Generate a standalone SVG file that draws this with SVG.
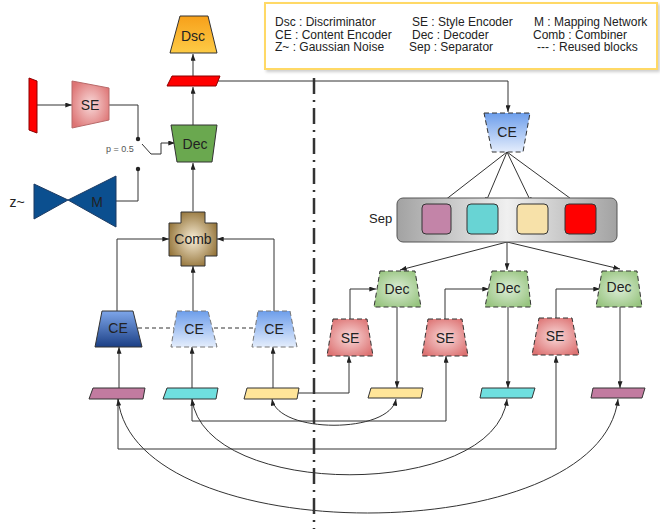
<svg xmlns="http://www.w3.org/2000/svg" width="660" height="529" viewBox="0 0 660 529">
<style>
  text { font-family: "Liberation Sans", Arial, sans-serif; fill: #222; }
  .lbl { font-size: 14px; text-anchor: middle; dominant-baseline: central; }
  .leg { font-size: 12px; }
  .ln { fill: none; stroke: #333; stroke-width: 1; }
  .arr { marker-end: url(#ah); }
  .both { marker-start: url(#ahs); marker-end: url(#ah); }
  .solid { stroke: #333; stroke-width: 1; }
  .dash { stroke: #333; stroke-width: 1; stroke-dasharray: 5 3; }
  .dashl { stroke: #777; stroke-width: 1; stroke-dasharray: 5 3; }
</style>
<defs>
  <marker id="ah" viewBox="0 0 8 6" refX="8" refY="3" markerWidth="7" markerHeight="5" orient="auto" markerUnits="userSpaceOnUse"><path d="M0,0 L8,3 L0,6 z" fill="#222"/></marker>
  <marker id="ahs" viewBox="0 0 8 6" refX="8" refY="3" markerWidth="7" markerHeight="5" orient="auto-start-reverse" markerUnits="userSpaceOnUse"><path d="M0,0 L8,3 L0,6 z" fill="#222"/></marker>
  <linearGradient id="gDsc" x1="0" y1="0" x2="0" y2="1"><stop offset="0" stop-color="#F7A01A"/><stop offset="1" stop-color="#FDCB46"/></linearGradient>
  <radialGradient id="gSE" cx="0.5" cy="0.5" r="0.6"><stop offset="0" stop-color="#F8D9D9"/><stop offset="1" stop-color="#DD7373"/></radialGradient>
  <radialGradient id="gComb" cx="0.5" cy="0.5" r="0.6"><stop offset="0" stop-color="#F8EDD6"/><stop offset="1" stop-color="#8C6A2C"/></radialGradient>
  <linearGradient id="gCE1" x1="0" y1="0" x2="0" y2="1"><stop offset="0" stop-color="#7EA6EA"/><stop offset="1" stop-color="#1B3F85"/></linearGradient>
  <linearGradient id="gCE2" x1="0" y1="0" x2="0" y2="1"><stop offset="0" stop-color="#6D9EEB"/><stop offset="1" stop-color="#E4EDFC"/></linearGradient>
  <radialGradient id="gDec" cx="0.5" cy="0.5" r="0.6"><stop offset="0" stop-color="#DCEDD6"/><stop offset="1" stop-color="#97C47F"/></radialGradient>
  <linearGradient id="gSep" x1="0" y1="0" x2="1" y2="0"><stop offset="0" stop-color="#A2A2A2"/><stop offset="0.5" stop-color="#F0F0F0"/><stop offset="1" stop-color="#A2A2A2"/></linearGradient>
  <filter id="sh" x="-5%" y="-20%" width="110%" height="140%"><feDropShadow dx="2" dy="2" stdDeviation="1.5" flood-color="#000" flood-opacity="0.2"/></filter>
</defs>
<rect width="660" height="529" fill="#fff"/>

<!-- legend -->
<g id="legend">
  <rect x="265" y="3" width="392" height="66" fill="#fff" stroke="#FFD966" stroke-width="2" filter="url(#sh)"/>
  <text class="leg" x="275" y="26">Dsc : Discriminator</text>
  <text class="leg" x="412" y="26">SE : Style Encoder</text>
  <text class="leg" x="534" y="26">M : Mapping Network</text>
  <text class="leg" x="275" y="38.5">CE : Content Encoder</text>
  <text class="leg" x="412" y="38.5">Dec : Decoder</text>
  <text class="leg" x="533" y="38.5">Comb : Combiner</text>
  <text class="leg" x="275" y="51">Z~ : Gaussian Noise</text>
  <text class="leg" x="409" y="51">Sep : Separator</text>
  <text class="leg" x="537" y="51">--- : Reused blocks</text>
</g>

<!-- separator line -->
<line x1="314" y1="78" x2="314" y2="529" stroke="#333" stroke-width="2.5" stroke-dasharray="16 6 2 6"/>

<!-- connectors -->
<g id="connectors">
  <path class="ln arr" d="M193,76 V54"/>
  <path class="ln arr" d="M193,125 V87"/>
  <path class="ln arr" d="M193,211 V163"/>
  <path class="ln arr" d="M218,81 H508 V112"/>
  <path class="ln arr" d="M37,105 H72"/>
  <path class="ln" d="M109,105 H138 V139"/>
  <path class="ln" d="M142,144 L151,154 H161 V143"/>
  <path class="ln arr" d="M161,143 H175"/>
  <path class="ln" d="M138,169 V201 H116"/>
  <circle cx="138" cy="139" r="2.2" fill="#222"/>
  <circle cx="138" cy="169" r="2.2" fill="#222"/>
  <path class="ln arr" d="M117,311 V239 H169"/>
  <path class="ln arr" d="M274,311 V239 H217"/>
  <path class="ln arr" d="M193,311 V266"/>
  <path d="M138,328 H174 M214,328 H255" stroke="#333" stroke-width="1" stroke-dasharray="4 3" fill="none"/>
  <path class="ln arr" d="M119,388 V347"/>
  <path class="ln arr" d="M192,388 V347"/>
  <path class="ln arr" d="M273,388 V347"/>
  <!-- right side -->
  <path class="ln arr" d="M507,152 L440,204"/>
  <path class="ln arr" d="M507,152 L485,204"/>
  <path class="ln arr" d="M507,152 L532,204"/>
  <path class="ln arr" d="M507,152 L578,204"/>
  <path class="ln arr" d="M507,242 L400,270"/>
  <path class="ln arr" d="M507,242 V270"/>
  <path class="ln arr" d="M507,242 L620,269"/>
  <path class="ln arr" d="M350,319 V289 H376"/>
  <path class="ln arr" d="M445,319 V289 H489"/>
  <path class="ln arr" d="M556,319 V289 H600"/>
  <path class="ln arr" d="M397,307 V388"/>
  <path class="ln arr" d="M508,307 V388"/>
  <path class="ln arr" d="M620,307 V388"/>
  <path class="ln arr" d="M298,393 H349 V356"/>
  <path class="ln arr" d="M192,399 V421 H446 V356"/>
  <path class="ln arr" d="M118,399 V449 H556 V356"/>
  <path class="ln both" d="M272,399 C278,434 390,434 396,399"/>
  <path class="ln both" d="M192,399 C205,500 495,500 507,399"/>
  <path class="ln both" d="M118,399 C135,551 600,551 618,399"/>
</g>

<!-- left nodes -->
<g id="dsc"><polygon points="180,16 208,16 217,53 170,53" fill="url(#gDsc)" class="solid"/><text class="lbl" x="193" y="36">Dsc</text></g>
<g id="out-red"><polygon points="172,76 220,76 216,86 167,86" fill="#FF0000" stroke="#8B0000" stroke-width="1"/></g>
<g id="style-img"><polygon points="29,78 37,81 37,133 29,130" fill="#FF0000" stroke="#8B0000" stroke-width="1"/></g>
<g id="se-left"><polygon points="72,81 109,88 109,120 72,128" fill="url(#gSE)" stroke="#B86A6A" stroke-width="1"/><text class="lbl" x="90" y="105">SE</text></g>
<g id="p-label"><text x="106" y="152" style="font-size:9px;fill:#555">p = 0.5</text></g>
<g id="mapping"><polygon points="34,184 68,200 34,219" fill="#0B4F8F" stroke="#1D3B63" stroke-width="1"/><polygon points="68,200 116,176 116,227" fill="#0B4F8F" stroke="#1D3B63" stroke-width="1"/><text class="lbl" x="97" y="202">M</text></g>
<g id="noise"><text class="lbl" x="17" y="202">z~</text></g>
<g id="dec-left"><polygon points="171,125 217,125 212,162 177,162" fill="#6AA84F" class="solid"/><text class="lbl" x="195" y="144">Dec</text></g>
<g id="comb"><polygon points="181,212 205,212 205,223 217,223 217,256 205,256 205,266 181,266 181,256 169,256 169,223 181,223" fill="url(#gComb)" class="solid"/><text class="lbl" x="193" y="239">Comb</text></g>
<g id="ce1"><polygon points="102,311 133,311 142,347 95,347" fill="url(#gCE1)" class="solid"/><text class="lbl" x="118" y="328">CE</text></g>
<g id="ce2"><polygon points="177,311 208,311 217,347 171,347" fill="url(#gCE2)" class="dashl"/><text class="lbl" x="194" y="329">CE</text></g>
<g id="ce3"><polygon points="258,311 290,311 297,347 252,347" fill="url(#gCE2)" class="dashl"/><text class="lbl" x="274" y="329">CE</text></g>
<g id="in-purple"><polygon points="93,388 145,388 143,399 89,399" fill="#C27BA0" class="solid"/></g>
<g id="in-cyan"><polygon points="167,388 218,388 216,399 163,399" fill="#6FDFDF" class="solid"/></g>
<g id="in-yellow"><polygon points="247,388 299,388 297,399 244,399" fill="#FFE599" class="solid"/></g>

<!-- right nodes -->
<g id="ce-right"><polygon points="484,113 530,113 523,152 492,152" fill="url(#gCE2)" class="dash"/><text class="lbl" x="507" y="132">CE</text></g>
<g id="sep"><rect x="397" y="198" width="220" height="44" rx="6" fill="url(#gSep)" stroke="#555" stroke-width="1"/>
  <rect x="422" y="204" width="29" height="30" rx="4" fill="#C384A8" class="solid"/>
  <rect x="467" y="204" width="31" height="30" rx="4" fill="#68D4D4" class="solid"/>
  <rect x="517" y="204" width="31" height="30" rx="4" fill="#F7E1A9" class="solid"/>
  <rect x="565" y="204" width="31" height="30" rx="4" fill="#FF0000" class="solid"/>
</g>
<g id="sep-label"><text x="369" y="223" style="font-size:13px">Sep</text></g>
<g id="dec-r1"><polygon points="380,271 415,271 421,307 374,307" fill="url(#gDec)" class="dash"/><text class="lbl" x="397" y="289">Dec</text></g>
<g id="dec-r2"><polygon points="492,271 527,271 531,307 485,307" fill="url(#gDec)" class="dash"/><text class="lbl" x="508" y="288">Dec</text></g>
<g id="dec-r3"><polygon points="602,271 637,271 642,307 596,307" fill="url(#gDec)" class="dash"/><text class="lbl" x="619" y="287">Dec</text></g>
<g id="se-r1"><polygon points="333,319 367,319 373,356 327,356" fill="url(#gSE)" class="dash"/><text class="lbl" x="350" y="338">SE</text></g>
<g id="se-r2"><polygon points="428,319 462,319 468,356 422,356" fill="url(#gSE)" class="dash"/><text class="lbl" x="445" y="338">SE</text></g>
<g id="se-r3"><polygon points="539,318 572,318 579,355 532,355" fill="url(#gSE)" class="dash"/><text class="lbl" x="555" y="336">SE</text></g>
<g id="out-yellow"><polygon points="371,388 423,388 421,398 368,398" fill="#FFE599" class="solid"/></g>
<g id="out-cyan"><polygon points="482,388 535,388 532,398 480,398" fill="#6FDFDF" class="solid"/></g>
<g id="out-purple"><polygon points="593,388 645,388 642,398 591,398" fill="#C27BA0" class="solid"/></g>
</svg>
